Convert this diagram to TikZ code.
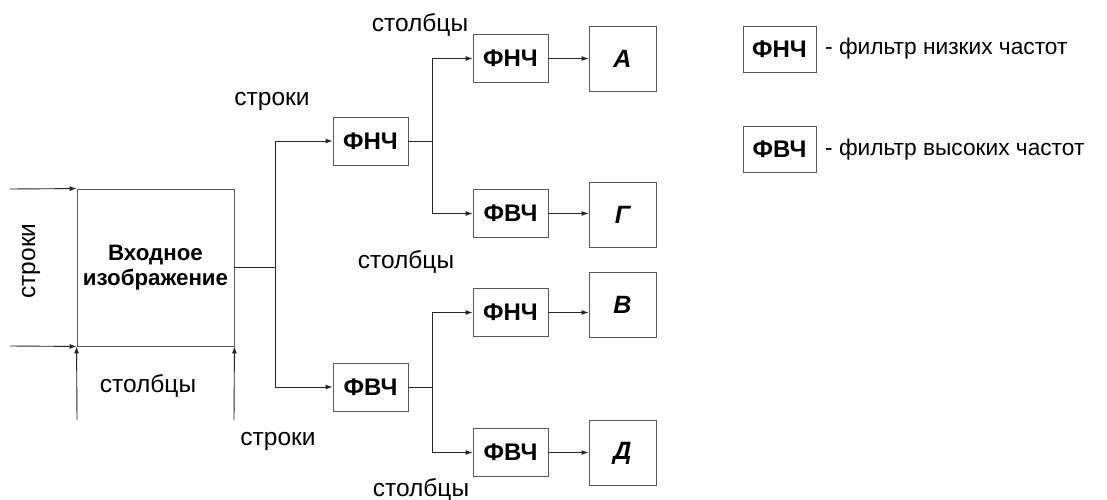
\documentclass[tikz,border=0pt]{standalone}
\usepackage{fontspec}
\setmainfont{Liberation Sans}
\usetikzlibrary{arrows.meta}
\tikzset{
  ln/.style={draw=black!85, line width=0.9pt},
  arr/.style={ln, -{Latex[length=7pt,width=5pt]}},
  filt/.style={draw=black!65, line width=0.9pt, minimum width=75pt, minimum height=48pt, inner sep=0pt, font=\fontsize{24}{27}\selectfont\bfseries},
  outb/.style={draw=black!65, line width=0.9pt, minimum width=67pt, minimum height=65pt, inner sep=0pt, font=\fontsize{25}{27}\selectfont\bfseries\itshape},
  lbl/.style={inner sep=0pt, font=\fontsize{24.5}{27}\selectfont},
}
\begin{document}
\begin{tikzpicture}[x=1pt,y=-1pt]
\useasboundingbox (0,0) rectangle (1107,500);
% input image
\node[draw=black!65, line width=0.9pt, minimum width=157pt, minimum height=157pt, inner sep=0pt, align=center, font=\fontsize{22.3}{25}\selectfont\bfseries] (in) at (155.5,267.5) {Входное\\изображение};
\coordinate (tl) at (10,189);
\coordinate (bl) at (10,346);
\coordinate (bll) at (77,420);
\coordinate (brr) at (234,420);
\draw[arr] (tl) -- (in.north west);
\draw[arr] (bl) -- (in.south west);
\draw[arr] (bll) -- (in.south west);
\draw[arr] (brr) -- (in.south east);
% first level
\node[filt] (f1) at (370.5,141) {ФНЧ};
\node[filt] (f2) at (370.5,387) {ФВЧ};
\coordinate (j1) at (275,267.5);
\draw[ln] (in.east) -- (j1);
\draw[arr] (j1) |- (f1.west);
\draw[arr] (j1) |- (f2.west);
% second level
\node[filt] (g1) at (510.5,58.5) {ФНЧ};
\node[filt] (g2) at (510.5,213.5) {ФВЧ};
\node[filt] (g3) at (510.5,312.5) {ФНЧ};
\node[filt] (g4) at (510.5,452.5) {ФВЧ};
\coordinate (j2) at (432,141);
\coordinate (j3) at (432,387);
\draw[ln] (f1.east) -- (j2);
\draw[arr] (j2) |- (g1.west);
\draw[arr] (j2) |- (g2.west);
\draw[ln] (f2.east) -- (j3);
\draw[arr] (j3) |- (g3.west);
\draw[arr] (j3) |- (g4.west);
% outputs
\node[outb] (oa) at (622.5,58.5) {А};
\node[outb] (og) at (622.5,214.5) {Г};
\node[outb] (ov) at (622.5,304.5) {В};
\node[outb] (od) at (622.5,453) {Д};
\draw[arr] (g1.east) -- (g1.east -| oa.west);
\draw[arr] (g2.east) -- (g2.east -| og.west);
\draw[arr] (g3.east) -- (g3.east -| ov.west);
\draw[arr] (g4.east) -- (g4.east -| od.west);
% labels
\node[lbl, rotate=90] (l1) at (31,261) {строки};
\node[lbl] (l2) at (148,386) {столбцы};
\node[lbl] (l3) at (272,101) {строки};
\node[lbl] (l4) at (420,25) {столбцы};
\node[lbl] (l5) at (406,262) {столбцы};
\node[lbl] (l6) at (278,441) {строки};
\node[lbl] (l7) at (421,490) {столбцы};
% legend
\node[filt, minimum width=73pt, minimum height=46pt] (k1) at (779.5,49) {ФНЧ};
\node[filt, minimum width=73pt, minimum height=46pt] (k2) at (779.5,149.5) {ФВЧ};
\node[lbl, anchor=west, font=\fontsize{22.7}{27}\selectfont] (t1) at (825,49) {- фильтр низких частот};
\node[lbl, anchor=west, font=\fontsize{22.7}{27}\selectfont] (t2) at (825,149.5) {- фильтр высоких частот};
\end{tikzpicture}
\end{document}
